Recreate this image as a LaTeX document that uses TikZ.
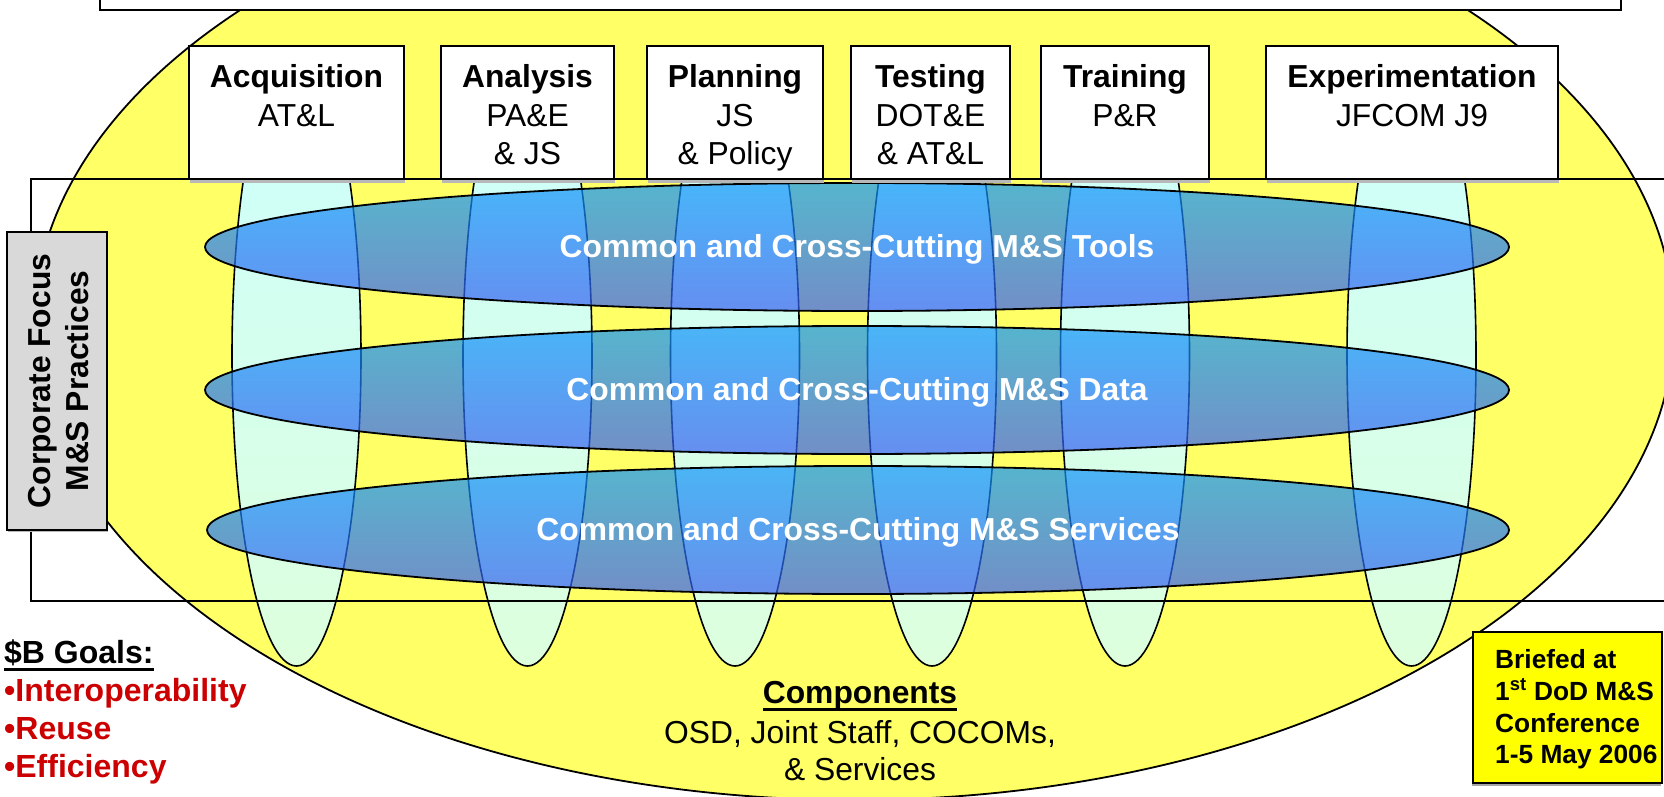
\documentclass[tikz,border=0pt]{standalone}
\usepackage{fontspec}
\setmainfont{Liberation Sans}
\usetikzlibrary{shadows}
\definecolor{bigyellow}{RGB}{255,255,102}
\definecolor{colTop}{RGB}{204,255,255}
\definecolor{colBot}{RGB}{221,255,221}
\definecolor{blueTop}{RGB}{15,150,250}
\definecolor{blueBot}{RGB}{55,95,242}
\definecolor{goalred}{RGB}{204,0,0}
\definecolor{briefyellow}{RGB}{255,255,0}
\definecolor{corpgray}{RGB}{217,217,217}
\newcommand{\myul}[1]{\setbox0\hbox{#1}\rlap{\rule[-8pt]{\wd0}{3.2pt}}\box0}
\begin{document}
\begin{tikzpicture}[x=1pt,y=-1pt,
  outl/.style={draw=black,line width=1.8pt},
  colstyle/.style={draw=black,line width=1.6pt,top color=colTop,bottom color=colBot},
  bluestyle/.style={draw=black,line width=1.8pt,top color=blueTop,bottom color=blueBot,fill opacity=0.7},
  dept/.style={draw=black,line width=2pt,fill=white,inner sep=0pt,
    general shadow={fill=black!28,shadow xshift=0.6pt,shadow yshift=-4pt}},
  txt/.style={anchor=base,inner sep=0pt,font=\fontsize{31.8pt}{38pt}\selectfont},
  btxt/.style={anchor=base,inner sep=0pt,font=\fontsize{31.8pt}{38pt}\selectfont\bfseries},
  wtxt/.style={btxt,text=white},
  gtxt/.style={anchor=base west,inner sep=0pt,font=\fontsize{32pt}{38pt}\selectfont\bfseries},
  brtxt/.style={anchor=base west,inner sep=0pt,font=\fontsize{26.3pt}{32pt}\selectfont\bfseries}]
\useasboundingbox (0,0) rectangle (1664,797);

% big yellow ellipse
\path[outl,fill=bigyellow] (854,325) ellipse [x radius=820,y radius=475];

% top title rectangle (cut off)
\node[draw=black,line width=1.8pt,fill=white,minimum width=1521pt,minimum height=40pt,inner sep=0pt] (topbox) at (860.5,-10) {};

% columns
\foreach \cx in {296.5,527.5,735,932,1125,1411.5}{
  \path[colstyle] (\cx,356) ellipse [x radius=64.5,y radius=310];
}

% background rectangle
\path[draw=black,line width=1.6pt] (1720,179) -- (31,179) -- (31,601) -- (1720,601);

% blue cross-cutting ellipses
\path[bluestyle] (857,247) ellipse [x radius=652,y radius=64];
\path[bluestyle] (857,390) ellipse [x radius=652,y radius=64];
\path[bluestyle] (858,530) ellipse [x radius=651,y radius=64];

\node[wtxt] (tools) at (857,257.5) {Common and Cross-Cutting M\&S Tools};
\node[wtxt] (data) at (857,400.5) {Common and Cross-Cutting M\&S Data};
\node[wtxt] (serv) at (858,540.5) {Common and Cross-Cutting M\&S Services};

% department boxes
\node[dept,minimum width=215pt,minimum height=133pt] (acq) at (296.5,112.5) {};
\node[dept,minimum width=173pt,minimum height=133pt] (ana) at (527.5,112.5) {};
\node[dept,minimum width=176pt,minimum height=133pt] (pla) at (735,112.5) {};
\node[dept,minimum width=159pt,minimum height=133pt] (tes) at (930.5,112.5) {};
\node[dept,minimum width=168pt,minimum height=133pt] (tra) at (1125,112.5) {};
\node[dept,minimum width=292pt,minimum height=133pt] (exp) at (1412,112.5) {};

\node[btxt] (acq1) at (296.5,88) {Acquisition};
\node[txt] (acq2) at (296.5,127) {AT\&L};
\node[btxt] (ana1) at (527.5,88) {Analysis};
\node[txt] (ana2) at (527.5,127) {PA\&E};
\node[txt] (ana3) at (527.5,164.5) {\& JS};
\node[btxt] (pla1) at (735,88) {Planning};
\node[txt] (pla2) at (735,127) {JS};
\node[txt] (pla3) at (735,164.5) {\& Policy};
\node[btxt] (tes1) at (930.5,88) {Testing};
\node[txt] (tes2) at (930.5,127) {DOT\&E};
\node[txt] (tes3) at (930.5,164.5) {\& AT\&L};
\node[btxt] (tra1) at (1125,88) {Training};
\node[txt] (tra2) at (1125,127) {P\&R};
\node[btxt] (exp1) at (1412,88) {Experimentation};
\node[txt] (exp2) at (1412,127) {JFCOM J9};

% corporate focus box
\node[draw=black,line width=2pt,fill=corpgray,inner sep=0pt,minimum width=100pt,minimum height=298pt,
  general shadow={fill=black!28,shadow xshift=0.6pt,shadow yshift=-2pt}] (corp) at (57,381) {};
\node[btxt,rotate=90] (corp1) at (50,381) {Corporate Focus};
\node[btxt,rotate=90] (corp2) at (88,381) {M\&S Practices};

% goals
\node[gtxt] (goalh) at (4,663) {\myul{\$B Goals:}};
\node[gtxt,text=goalred] (goal1) at (4,701) {•Interoperability};
\node[gtxt,text=goalred] (goal2) at (4,739) {•Reuse};
\node[gtxt,text=goalred] (goal3) at (4,777) {•Efficiency};

% components
\node[btxt] (comp1) at (860,703) {\myul{Components}};
\node[txt] (comp2) at (860,743) {OSD, Joint Staff, COCOMs,};
\node[txt] (comp3) at (860,780) {\& Services};

% briefed box
\node[draw=black,line width=2pt,fill=briefyellow,inner sep=0pt,minimum width=189pt,minimum height=151pt,
  general shadow={fill=black!35,shadow xshift=-1pt,shadow yshift=-2.5pt}] (brief) at (1567.5,707.5) {};
\node[brtxt] (br1) at (1495,668) {Briefed at};
\node[brtxt] (br2) at (1495,700) {1\textsuperscript{st} DoD M\&S};
\node[brtxt] (br3) at (1495,732) {Conference};
\node[brtxt] (br4) at (1495,763) {1-5 May 2006};
\end{tikzpicture}
\end{document}
